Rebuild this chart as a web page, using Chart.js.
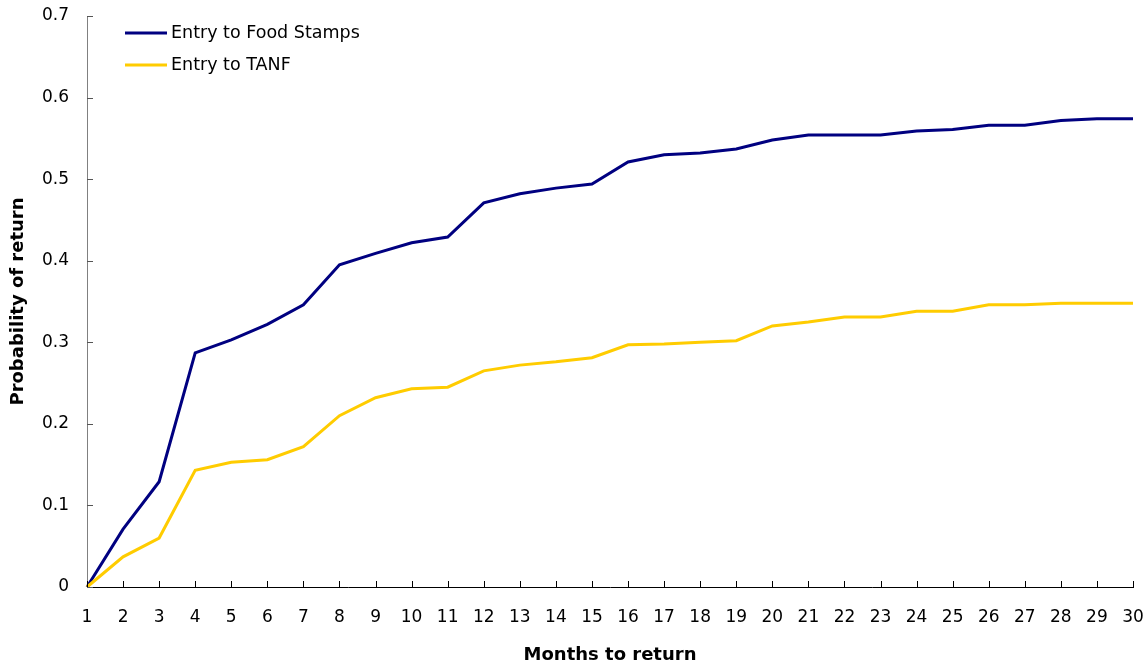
<!DOCTYPE html>
<html>
<head>
<meta charset="utf-8">
<script src="https://cdn.jsdelivr.net/npm/chart.js@4/dist/chart.umd.min.js"></script>
<style>
  html, body { margin: 0; padding: 0; background: #fff; }
  #wrap { width: 1148px; height: 667px; position: relative; }
</style>
</head>
<body>
<div id="wrap"><canvas id="returnChart"></canvas></div>
<script>
// months since exit
const months = [1,2,3,4,5,6,7,8,9,10,11,12,13,14,15,16,17,18,19,20,21,22,23,24,25,26,27,28,29,30];

// probability of return
const foodStamps = [0, 0.071, 0.129, 0.287, 0.303, 0.322, 0.346, 0.395, 0.409, 0.422,
  0.429, 0.471, 0.482, 0.489, 0.494, 0.521, 0.530, 0.532, 0.537, 0.548,
  0.554, 0.554, 0.554, 0.559, 0.561, 0.566, 0.566, 0.572, 0.574, 0.574];
const tanf = [0, 0.037, 0.060, 0.143, 0.153, 0.156, 0.172, 0.210, 0.232, 0.243,
  0.245, 0.265, 0.272, 0.276, 0.281, 0.297, 0.298, 0.300, 0.302, 0.320,
  0.325, 0.331, 0.331, 0.338, 0.338, 0.346, 0.346, 0.348, 0.348, 0.348];

const yTicks = [0, 0.1, 0.2, 0.3, 0.4, 0.5, 0.6, 0.7];

const FONT = "'DejaVu Sans', sans-serif";

// excel style tick marks that point into the plot
const innerTicks = {
  id: 'innerTicks',
  afterDraw(chart) {
    const ctx = chart.ctx;
    const x = chart.scales.x, y = chart.scales.y;
    ctx.save();
    ctx.lineWidth = 1;
    ctx.strokeStyle = '#000';
    x.ticks.forEach((t, i) => {
      const px = Math.round(x.getPixelForTick(i)) + 0.5;
      ctx.beginPath();
      ctx.moveTo(px, y.bottom);
      ctx.lineTo(px, y.bottom - 6);
      ctx.stroke();
    });
    ctx.strokeStyle = '#555';
    y.ticks.forEach((t, i) => {
      const py = Math.round(y.getPixelForTick(i)) + 0.5;
      ctx.beginPath();
      ctx.moveTo(x.left, py);
      ctx.lineTo(x.left + 6, py);
      ctx.stroke();
    });
    ctx.restore();
  }
};

// legend sits inside the plot, top left
const insideLegend = {
  id: 'insideLegend',
  afterDraw(chart) {
    const ctx = chart.ctx;
    const area = chart.chartArea;
    const sets = [chart.data.datasets[0], chart.data.datasets[1]];
    ctx.save();
    ctx.font = '17.5px ' + FONT;
    ctx.textBaseline = 'middle';
    sets.forEach((ds, i) => {
      const ly = area.top + 17 + i * 32;
      ctx.strokeStyle = ds.borderColor;
      ctx.lineWidth = 3;
      ctx.beginPath();
      ctx.moveTo(area.left + 38, ly);
      ctx.lineTo(area.left + 80, ly);
      ctx.stroke();
      ctx.fillStyle = '#000';
      ctx.fillText(ds.label, area.left + 84, ly);
    });
    ctx.restore();
  }
};

const ctx = document.getElementById('returnChart').getContext('2d');
new Chart(ctx, {
  type: 'line',
  data: {
    labels: months,
    datasets: [{
      label: 'Entry to Food Stamps',
      data: foodStamps,
      borderColor: '#000080',
      backgroundColor: '#000080',
      borderWidth: 3,
      pointRadius: 0,
      tension: 0,
      fill: false,
      clip: false,
      order: 1
    }, {
      label: 'Entry to TANF',
      data: tanf,
      borderColor: '#FFCC00',
      backgroundColor: '#FFCC00',
      borderWidth: 3,
      pointRadius: 0,
      tension: 0,
      fill: false,
      clip: false,
      order: 0
    }]
  },
  options: {
    responsive: true,
    maintainAspectRatio: false,
    animation: false,
    layout: { padding: { left: 0, top: 16, right: 15, bottom: 0 } },
    plugins: {
      legend: { display: false },
      tooltip: { enabled: false }
    },
    scales: {
      x: {
        type: 'category',
        offset: false,
        grid: { drawOnChartArea: false, drawTicks: false },
        border: { color: '#000', width: 1 },
        ticks: {
          color: '#000',
          font: { family: FONT, size: 17 },
          padding: 20,
          maxRotation: 0,
          autoSkip: false
        },
        title: {
          display: true,
          text: 'Months to return',
          color: '#000',
          font: { family: FONT, size: 18, weight: 'bold' },
          padding: { top: 0, bottom: 1 }
        },
        afterFit(scale) {
          scale.height = 80;
          scale.paddingLeft = 0;
          scale.paddingRight = 0;
        }
      },
      y: {
        min: 0,
        max: 0.7,
        grid: { drawOnChartArea: false, drawTicks: false },
        border: { color: '#808080', width: 1 },
        afterBuildTicks(scale) { scale.ticks = yTicks.map(v => ({ value: v })); },
        ticks: {
          color: '#000',
          font: { family: FONT, size: 17 },
          padding: 18,
          callback: v => (v === 0 ? '0' : v.toFixed(1))
        },
        title: {
          display: true,
          text: 'Probability of return',
          color: '#000',
          font: { family: FONT, size: 18, weight: 'bold' },
          padding: { top: 8, bottom: 0 }
        },
        afterFit(scale) {
          scale.width = 87;
          scale.paddingTop = 0;
          scale.paddingBottom = 0;
        }
      }
    }
  },
  plugins: [innerTicks, insideLegend]
});
</script>
</body>
</html>
